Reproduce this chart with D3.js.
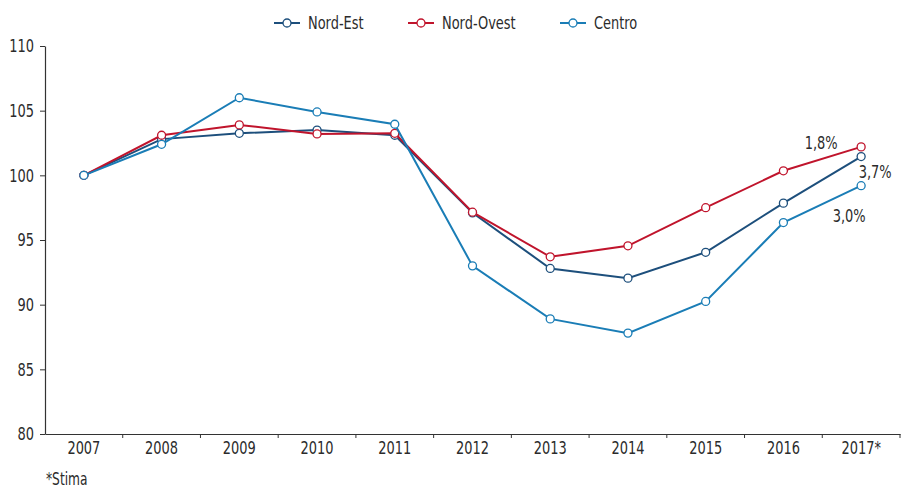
<!DOCTYPE html>
<html>
  <head>
    <meta charset="utf-8" />
    <script src="https://d3js.org/d3.v7.min.js"></script>
    <style>
      body { margin: 0; background: #fff; }
      svg text { font-family: "Liberation Sans Narrow", "DejaVu Sans Condensed", "Roboto", sans-serif; fill: #2b2b2b; }
    </style>
  </head>
  <body>
    <svg id="chart" width="902" height="488"></svg>

    <script>
      // data
      const years = ["2007", "2008", "2009", "2010", "2011", "2012", "2013", "2014", "2015", "2016", "2017*"];
      const nordEst = [100, 102.8, 103.25, 103.5, 103.1, 97.1, 92.8, 92.05, 94.05, 97.85, 101.45];
      const nordOvest = [100, 103.1, 103.9, 103.2, 103.25, 97.15, 93.7, 94.55, 97.5, 100.35, 102.2];
      const centro = [100, 102.4, 106.0, 104.9, 103.95, 93.0, 88.9, 87.8, 90.25, 96.35, 99.2];
      const yTicks = [80, 85, 90, 95, 100, 105, 110];
      const seriesNames = ["Nord-Est", "Nord-Ovest", "Centro"];
      const seriesColors = ["#1d4f7c", "#c0142c", "#1a7db6"];
      const endLabels = ["3,7%", "1,8%", "3,0%"];

      const series = [nordEst, nordOvest, centro].map((vals, i) => ({
        name: seriesNames[i],
        color: seriesColors[i],
        label: endLabels[i],
        values: vals.map((v, j) => ({ year: years[j], value: v })),
      }));

      const svg = d3.select("#chart");

      var x = d3.scaleBand().domain(years).range([45, 900]);
      var y = d3.scaleLinear().domain([80, 110]).range([434, 46]);
      const cx = (d) => x(d) + x.bandwidth() / 2;

      // y axis
      const yAxis = svg
        .append("g")
        .attr("transform", "translate(45,0)")
        .call(d3.axisLeft(y).tickValues(yTicks).tickSize(5).tickPadding(6).tickSizeOuter(0));
      yAxis.selectAll("text").attr("font-size", 18);

      // x axis, ticks between the categories
      const xAxis = svg
        .append("g")
        .attr("transform", "translate(0,434)")
        .call(d3.axisBottom(x).tickSize(0).tickPadding(7).tickSizeOuter(0));
      xAxis.selectAll("text").attr("font-size", 18);
      xAxis
        .selectAll(".sep")
        .data(years.slice(1).concat(["end"]))
        .enter()
        .append("line")
        .attr("x1", (d) => (d === "end" ? 900 : x(d)))
        .attr("x2", (d) => (d === "end" ? 900 : x(d)))
        .attr("y1", 0)
        .attr("y2", 4)
        .attr("stroke", "#333");
      svg.selectAll(".domain").attr("stroke", "#333").attr("stroke-width", 1.2);
      svg.selectAll(".tick line").attr("stroke", "#333");

      const line = d3
        .line()
        .x((d) => cx(d.year))
        .y((d) => y(d.value));

      const groups = svg.append("g").selectAll("g").data(series).enter().append("g");

      groups
        .append("path")
        .attr("d", (d) => line(d.values))
        .attr("fill", "none")
        .attr("stroke", (d) => d.color)
        .attr("stroke-width", 2);

      groups
        .selectAll("circle")
        .data((d) => d.values.map((v) => ({ ...v, color: d.color })))
        .enter()
        .append("circle")
        .attr("cx", (d) => cx(d.year))
        .attr("cy", (d) => y(d.value))
        .attr("r", 4)
        .attr("fill", "#fff")
        .attr("stroke", (d) => d.color)
        .attr("stroke-width", 1.3);

      // labels at the last point
      const last = years[years.length - 1];
      const labelOffsets = { "Nord-Est": [14, 21], "Nord-Ovest": [-40, 2], "Centro": [-12, 36] };
      groups
        .append("text")
        .attr("x", (d) => cx(last) + labelOffsets[d.name][0])
        .attr("y", (d) => y(d.values[d.values.length - 1].value) + labelOffsets[d.name][1])
        .attr("text-anchor", "middle")
        .attr("font-size", 18)
        .text((d) => d.label);

      // legend
      const legendX = [274, 408, 560];
      const legend = svg
        .append("g")
        .selectAll("g")
        .data(series)
        .enter()
        .append("g")
        .attr("transform", (d, i) => "translate(" + legendX[i] + ",23)");
      legend
        .append("line")
        .attr("x1", 0)
        .attr("x2", 26)
        .attr("stroke", (d) => d.color)
        .attr("stroke-width", 2);
      legend
        .append("circle")
        .attr("cx", 13)
        .attr("r", 4)
        .attr("fill", "#fff")
        .attr("stroke", (d) => d.color)
        .attr("stroke-width", 1.3);
      legend
        .append("text")
        .attr("x", 34)
        .attr("y", 6)
        .attr("font-size", 18)
        .text((d) => d.name);

      svg
        .append("text")
        .attr("x", 46)
        .attr("y", 485)
        .attr("font-size", 17)
        .text("*Stima");

      // the original uses a condensed face: squeeze every label horizontally
      svg.selectAll("text").each(function () {
        const w = this.getComputedTextLength();
        d3.select(this).attr("textLength", w * 0.8).attr("lengthAdjust", "spacingAndGlyphs");
      });
    </script>
  </body>
</html>
